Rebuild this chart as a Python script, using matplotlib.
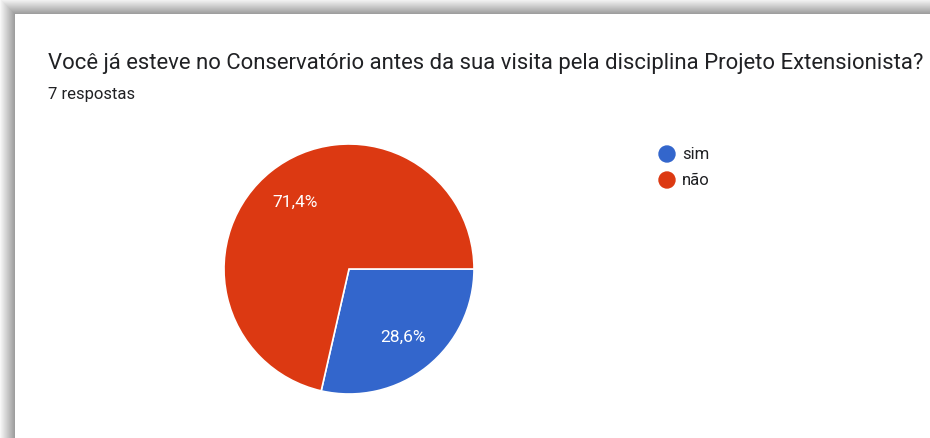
import numpy as np
import matplotlib
matplotlib.use("Agg")
import matplotlib.pyplot as plt

# dados
categorias = ["sim", "não"]
valores = [2, 5]
rotulos = ["28,6%", "71,4%"]
cores = ["#3366CC", "#DC3912"]

plt.rcParams['font.family'] = ['Roboto', 'DejaVu Sans']

fig = plt.figure(figsize=(9.3, 4.39), dpi=100)

# fundo com moldura cinza / sombra
bg = np.ones((439, 930, 3))
borda = 15
rampa = np.linspace(0.97, 0.62, borda)
for i in range(borda):
    bg[i, i:, :] = rampa[i]
    bg[i:, i, :] = np.minimum(bg[i:, i, :], rampa[i])
axbg = fig.add_axes([0, 0, 1, 1])
axbg.imshow(bg, aspect='auto', interpolation='nearest')
axbg.axis('off')

# titulo
fig.text(48 / 930, 1 - 64 / 439, "Você já esteve no Conservatório antes da sua visita pela disciplina Projeto Extensionista?",
         fontsize=15.9, color='#202124', va='center', ha='left')
fig.text(48 / 930, 1 - 95 / 439, "7 respostas", fontsize=12, color='#202124', va='center', ha='left')

# pizza
cx, cy, r = 349, 270, 125
ax = fig.add_axes([(cx - r) / 930, 1 - (cy + r) / 439, 2 * r / 930, 2 * r / 439])
fatias, _ = ax.pie(valores, colors=cores, startangle=0, counterclock=False,
                   wedgeprops=dict(edgecolor='white', linewidth=1.2))
ax.set_aspect('auto')
ax.set_xlim(-1, 1)
ax.set_ylim(-1, 1)

# rotulos das fatias
inicio = 0
for v, txt in zip(valores, rotulos):
    ang = np.deg2rad(inicio - 360 * v / sum(valores) / 2)
    ax.text(0.69 * np.cos(ang), 0.69 * np.sin(ang), txt, color='white', fontsize=12.5,
            ha='center', va='center')
    inicio -= 360 * v / sum(valores)

# legenda
for i, (cat, cor) in enumerate(zip(categorias, cores)):
    y = 1 - (155 + 26 * i) / 439
    fig.patches.append(matplotlib.patches.Ellipse((667 / 930, y), 16 / 930, 16 / 439,
                                                  transform=fig.transFigure, color=cor))
    fig.text(682 / 930, y, cat, fontsize=12, color='#202124', va='center', ha='left')

fig.savefig("out.png", dpi=100)
